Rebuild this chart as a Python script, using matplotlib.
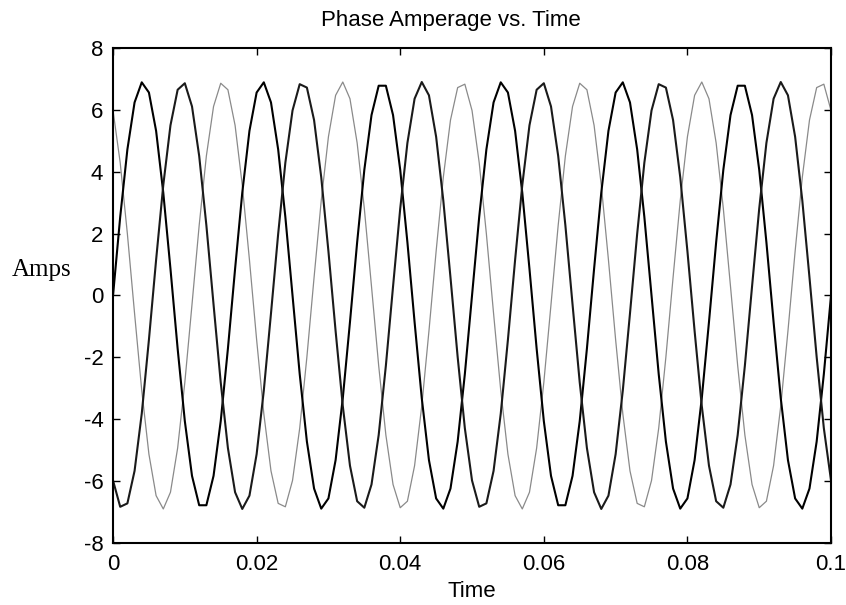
import numpy as np
import matplotlib.pyplot as plt

plt.rcParams["axes.unicode_minus"] = False

# sampled phase currents (A), one sample per millisecond from 0 to 0.1 s
sample_step = 0.001

phase_a = [
    0.00, 2.54, 4.72, 6.24, 6.89, 6.56, 5.32, 3.32, 0.86, -1.72,
    -4.06, -5.83, -6.78, -6.78, -5.83, -4.06, -1.72, 0.86, 3.32, 5.32,
    6.56, 6.89, 6.24, 4.72, 2.54, 0.00, -2.54, -4.72, -6.24, -6.89,
    -6.56, -5.32, -3.32, -0.86, 1.72, 4.06, 5.83, 6.78, 6.78, 5.83,
    4.06, 1.72, -0.86, -3.32, -5.32, -6.56, -6.89, -6.24, -4.72, -2.54,
    0.00, 2.54, 4.72, 6.24, 6.89, 6.56, 5.32, 3.32, 0.86, -1.72,
    -4.06, -5.83, -6.78, -6.78, -5.83, -4.06, -1.72, 0.86, 3.32, 5.32,
    6.56, 6.89, 6.24, 4.72, 2.54, 0.00, -2.54, -4.72, -6.24, -6.89,
    -6.56, -5.32, -3.32, -0.86, 1.72, 4.06, 5.83, 6.78, 6.78, 5.83,
    4.06, 1.72, -0.86, -3.32, -5.32, -6.56, -6.89, -6.24, -4.72, -2.54,
    0.00,
]

phase_b = [
    5.98, 4.29, 1.99, -0.58, -3.07, -5.13, -6.47, -6.90, -6.36, -4.93,
    -2.81, -0.29, 2.27, 4.51, 6.11, 6.86, 6.65, 5.50, 3.57, 1.15,
    -1.43, -3.82, -5.67, -6.72, -6.83, -5.98, -4.29, -1.99, 0.58, 3.07,
    5.13, 6.47, 6.90, 6.36, 4.93, 2.81, 0.29, -2.27, -4.51, -6.11,
    -6.86, -6.65, -5.50, -3.57, -1.15, 1.43, 3.82, 5.67, 6.72, 6.83,
    5.98, 4.29, 1.99, -0.58, -3.07, -5.13, -6.47, -6.90, -6.36, -4.93,
    -2.81, -0.29, 2.27, 4.51, 6.11, 6.86, 6.65, 5.50, 3.57, 1.15,
    -1.43, -3.82, -5.67, -6.72, -6.83, -5.98, -4.29, -1.99, 0.58, 3.07,
    5.13, 6.47, 6.90, 6.36, 4.93, 2.81, 0.29, -2.27, -4.51, -6.11,
    -6.86, -6.65, -5.50, -3.57, -1.15, 1.43, 3.82, 5.67, 6.72, 6.83,
    5.98,
]

phase_c = [
    -5.98, -6.83, -6.72, -5.67, -3.82, -1.43, 1.15, 3.57, 5.50, 6.65,
    6.86, 6.11, 4.51, 2.27, -0.29, -2.81, -4.93, -6.36, -6.90, -6.47,
    -5.13, -3.07, -0.58, 1.99, 4.29, 5.98, 6.83, 6.72, 5.67, 3.82,
    1.43, -1.15, -3.57, -5.50, -6.65, -6.86, -6.11, -4.51, -2.27, 0.29,
    2.81, 4.93, 6.36, 6.90, 6.47, 5.13, 3.07, 0.58, -1.99, -4.29,
    -5.98, -6.83, -6.72, -5.67, -3.82, -1.43, 1.15, 3.57, 5.50, 6.65,
    6.86, 6.11, 4.51, 2.27, -0.29, -2.81, -4.93, -6.36, -6.90, -6.47,
    -5.13, -3.07, -0.58, 1.99, 4.29, 5.98, 6.83, 6.72, 5.67, 3.82,
    1.43, -1.15, -3.57, -5.50, -6.65, -6.86, -6.11, -4.51, -2.27, 0.29,
    2.81, 4.93, 6.36, 6.90, 6.47, 5.13, 3.07, 0.58, -1.99, -4.29,
    -5.98,
]

x_ticks = [0, 0.02, 0.04, 0.06, 0.08, 0.1]
x_tick_labels = ["0", "0.02", "0.04", "0.06", "0.08", "0.1"]
y_ticks = [-8, -6, -4, -2, 0, 2, 4, 6, 8]

t = np.arange(len(phase_a)) * sample_step

fig = plt.figure(figsize=(8.46, 6.05), dpi=100)
ax = fig.add_axes([0.1336, 0.1025, 0.8487, 0.8182])

ax.plot(t, phase_b, color="#8a8a8a", lw=0.9)
ax.plot(t, phase_a, color="black", lw=1.5)
ax.plot(t, phase_c, color="#1a1a1a", lw=1.5)

ax.set_xlim(0, 0.1)
ax.set_ylim(-8, 8)
ax.set_xticks(x_ticks)
ax.set_xticklabels(x_tick_labels)
ax.set_yticks(y_ticks)
ax.tick_params(direction="in", length=5, width=1, top=True, right=True,
               labelsize=16)
ax.tick_params(axis="x", pad=8)
ax.tick_params(axis="y", pad=7)
for lab in ax.get_xticklabels() + ax.get_yticklabels():
    lab.set_family("Liberation Sans")
for sp in ax.spines.values():
    sp.set_linewidth(1.5)

ax.set_title("Phase Amperage vs. Time", fontsize=16, family="Liberation Sans",
             pad=16, x=0.471)
ax.set_xlabel("Time", fontsize=16, family="Liberation Sans", labelpad=4)
ax.set_ylabel("Amps", fontsize=18, family="Liberation Serif", rotation=0,
              ha="center", va="center")
ax.yaxis.set_label_coords(-0.100, 0.552)

fig.savefig("out.png", dpi=100)
